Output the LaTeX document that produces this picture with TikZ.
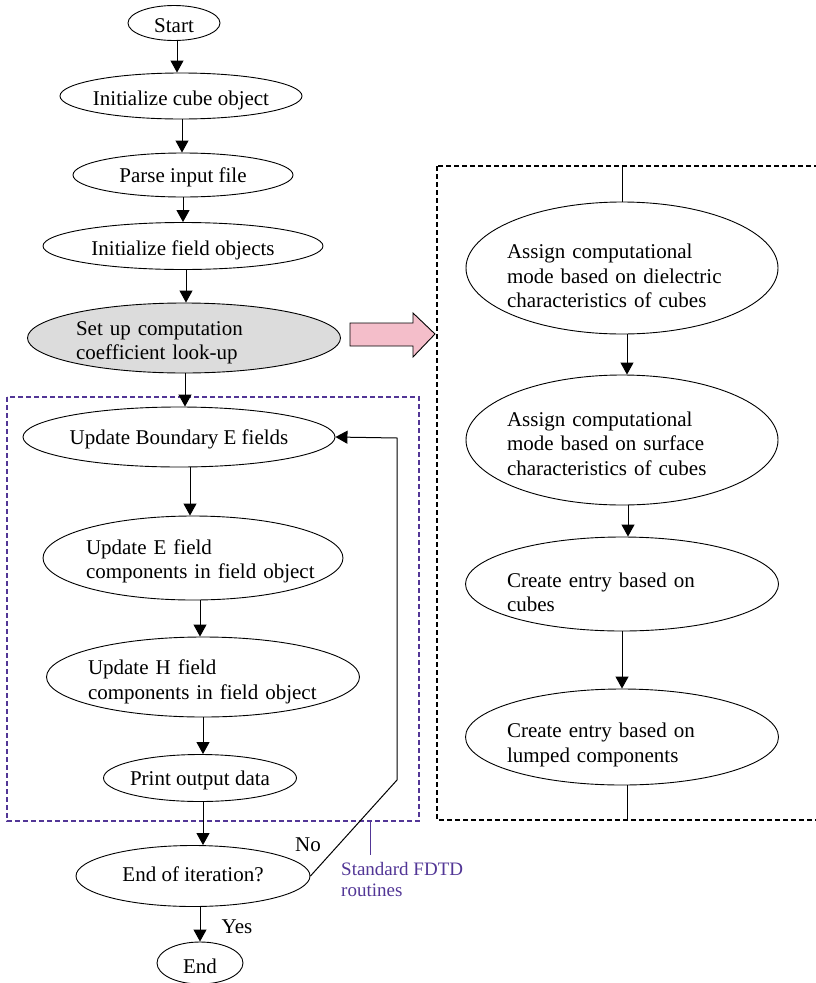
\documentclass[tikz,border=0pt]{standalone}
\usepackage{fontspec}
\setmainfont{Liberation Serif}
\usetikzlibrary{arrows.meta,shapes.geometric,calc}
\definecolor{fdtd}{RGB}{82,54,150}
\definecolor{pinkarr}{RGB}{244,190,202}
\definecolor{grayfill}{RGB}{220,220,220}
\begin{document}
\begin{tikzpicture}[x=1pt,y=-1pt,
  proc/.style={ellipse, draw, line width=0.9pt, inner xsep=-60pt, inner ysep=-20pt,
    font=\fontsize{21}{24.5}\selectfont, align=left,
    execute at begin node={\rule{0pt}{19.5pt}}},
  shiftdown/.style={execute at begin node={\rule{0pt}{#1}}},
  shiftup/.style={execute at begin node={\rule[-#1]{0pt}{#1}}},
  flow/.style={line width=1pt, -{Triangle[width=13pt,length=12pt]}},
  plain/.style={line width=1pt},
  lbl/.style={font=\fontsize{21}{24.5}\selectfont, inner sep=0pt},
  fdtdbox/.style={draw=fdtd, line width=1.3pt, dash pattern=on 5pt off 3pt},
  calcbox/.style={draw=black, line width=1.3pt, dash pattern=on 5pt off 3pt}]
\useasboundingbox (0,0) rectangle (816,983);

% dashed boxes
\draw[fdtdbox] (7,397) rectangle (419,821);
\draw[calcbox] (437,166) rectangle (822,820);

% left column
\node[proc, minimum width=92pt, minimum height=35pt] (start) at (174,23) {Start};
\node[proc, shiftdown=23pt, minimum width=242pt, minimum height=46pt] (init) at (181,96) {Initialize cube object};
\node[proc, minimum width=220pt, minimum height=44pt] (parse) at (183,175) {Parse input file};
\node[proc, shiftdown=23pt, minimum width=280pt, minimum height=47pt] (ifo) at (183,246) {Initialize field objects};
\node[proc, shiftdown=23.5pt, fill=grayfill, text width=216pt, minimum width=313pt, minimum height=70pt] (setup) at (184,338) {Set up computation\\coefficient look-up};
\node[proc, shiftdown=20.5pt, minimum width=312pt, minimum height=60pt] (ub) at (179,437) {Update Boundary E fields};
\node[proc, shiftdown=21.5pt, text width=214pt, minimum width=300pt, minimum height=84pt] (ue) at (193,558) {Update E field\\\mbox{components in field object}};
\node[proc, shiftdown=24pt, text width=230pt, minimum width=313pt, minimum height=80pt] (uh) at (203,677) {Update H field\\\mbox{components in field object}};
\node[proc, minimum width=193pt, minimum height=47pt] (pod) at (200,778) {Print output data};
\node[proc, shiftup=9pt, minimum width=234pt, minimum height=61pt] (eoi) at (193,876) {End of iteration?};
\node[proc, shiftdown=22pt, minimum width=86pt, minimum height=42pt] (fin) at (200,963) {End};

% right column
\node[proc, shiftdown=31pt, text width=230pt, minimum width=312pt, minimum height=132pt] (ad) at (622,268) {Assign computational\\mode based on dielectric\\characteristics of cubes};
\node[proc, shiftdown=21.5pt, text width=230pt, minimum width=312pt, minimum height=130pt] (as) at (622,440) {Assign computational\\mode based on surface\\characteristics of cubes};
\node[proc, shiftdown=31pt, text width=230pt, minimum width=313pt, minimum height=94pt] (cc) at (622,584) {Create entry based on\\cubes};
\node[proc, shiftdown=30pt, text width=230pt, minimum width=313pt, minimum height=96pt] (cl) at (622,737) {Create entry based on\\lumped components};

% left flow arrows
\draw[flow] (177,0 |- start.south) -- (177,0 |- init.north);
\draw[flow] (182,0 |- init.south) -- (182,0 |- parse.north);
\draw[flow] (183,0 |- parse.south) -- (183,0 |- ifo.north);
\draw[flow] (186,0 |- ifo.south) -- (186,0 |- setup.north);
\draw[flow] (185,0 |- setup.south) -- (185,0 |- ub.north);
\draw[flow] (190,0 |- ub.south) -- (190,0 |- ue.north);
\draw[flow] (200,0 |- ue.south) -- (200,0 |- uh.north);
\draw[flow] (203,0 |- uh.south) -- (203,0 |- pod.north);
\draw[flow] (203,0 |- pod.south) -- (203,0 |- eoi.north);
\draw[flow] (200,0 |- eoi.south) -- (200,0 |- fin.north);

% loop back
\coordinate (lp1) at (397,780);
\coordinate (lp2) at (397,438);
\draw[flow] (eoi.east) -- (lp1) -- (lp2) -- (ub.east);
\node[lbl] (no) at (308,845) {No};
\node[lbl] (yes) at (237,927) {Yes};

% FDTD annotation
\coordinate (ann1) at (370,821);
\node[inner sep=0pt, anchor=north west, align=left, text=fdtd,
      font=\fontsize{19}{21}\selectfont] (fdtdtxt) at (341,862) {Standard FDTD\\routines};
\draw[draw=fdtd, line width=0.9pt] (ann1) -- (370,855);

% right flow
\coordinate (rtop) at (622,166);
\coordinate (rbot) at (627,820);
\draw[plain] (rtop) -- (ad.north);
\draw[flow] (627,0 |- ad.south) -- (627,0 |- as.north);
\draw[flow] (628,0 |- as.south) -- (628,0 |- cc.north);
\draw[flow] (622,0 |- cc.south) -- (622,0 |- cl.north);
\draw[plain] (627,0 |- cl.south) -- (rbot);

% pink block arrow
\draw[fill=pinkarr, line width=0.9pt] (350,323) -- (413,323) -- (413,313) -- (435,334)
  -- (413,357) -- (413,346) -- (350,346) -- cycle;
\end{tikzpicture}
\end{document}
